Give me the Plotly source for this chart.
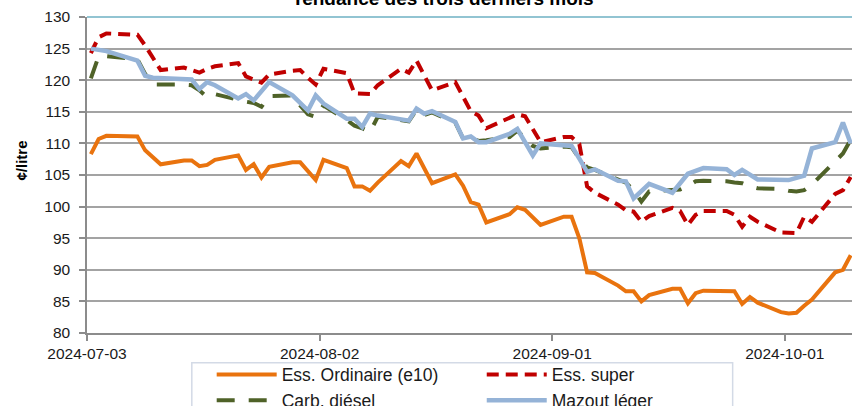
import plotly.graph_objects as go

# ---------------- data ----------------
ord_dates = ["2024-07-03","2024-07-04","2024-07-05","2024-07-09","2024-07-10","2024-07-12",
             "2024-07-15","2024-07-16","2024-07-17","2024-07-18","2024-07-19","2024-07-22",
             "2024-07-23","2024-07-24","2024-07-25","2024-07-26","2024-07-29","2024-07-30",
             "2024-08-01","2024-08-02","2024-08-05","2024-08-06","2024-08-07","2024-08-08",
             "2024-08-09","2024-08-12","2024-08-13","2024-08-14","2024-08-16","2024-08-19",
             "2024-08-20","2024-08-21","2024-08-22","2024-08-23","2024-08-26","2024-08-27",
             "2024-08-28","2024-08-30","2024-09-02","2024-09-03","2024-09-04","2024-09-05",
             "2024-09-06","2024-09-09","2024-09-10","2024-09-11","2024-09-12","2024-09-13",
             "2024-09-16","2024-09-17","2024-09-18","2024-09-19","2024-09-20","2024-09-23",
             "2024-09-24","2024-09-25","2024-09-26","2024-09-27","2024-09-30","2024-10-01",
             "2024-10-02","2024-10-03","2024-10-04","2024-10-07","2024-10-08","2024-10-09"]
ord_vals = [108.3,110.7,111.2,111.1,108.9,106.7,
            107.3,107.3,106.4,106.6,107.4,108.1,
            105.8,106.7,104.6,106.3,107.0,107.0,
            104.2,107.4,106.1,103.2,103.2,102.5,
            103.8,107.2,106.4,108.4,103.7,105.1,
            103.3,100.7,100.3,97.5,98.8,99.9,
            99.5,97.1,98.4,98.4,95.0,89.6,
            89.5,87.5,86.6,86.6,85.0,86.0,
            87.0,87.0,84.7,86.3,86.7,86.7,
            86.6,84.6,85.7,84.8,83.3,83.1,
            83.2,84.3,85.3,89.6,90.0,92.3]

sup_dates = ["2024-07-03","2024-07-04","2024-07-05","2024-07-09","2024-07-10","2024-07-12",
             "2024-07-15","2024-07-17","2024-07-18","2024-07-19","2024-07-22","2024-07-23",
             "2024-07-25","2024-07-26","2024-07-29","2024-07-30","2024-07-31","2024-08-01",
             "2024-08-02","2024-08-05","2024-08-06","2024-08-08","2024-08-09","2024-08-12",
             "2024-08-13","2024-08-14","2024-08-16","2024-08-19","2024-08-21","2024-08-22",
             "2024-08-23","2024-08-27","2024-08-28","2024-08-30","2024-09-02","2024-09-03",
             "2024-09-04","2024-09-05","2024-09-06","2024-09-09","2024-09-10","2024-09-11",
             "2024-09-12","2024-09-13","2024-09-16","2024-09-17","2024-09-18","2024-09-19",
             "2024-09-20","2024-09-23","2024-09-24","2024-09-25","2024-09-26","2024-09-27",
             "2024-09-30","2024-10-01","2024-10-02","2024-10-03","2024-10-04","2024-10-07",
             "2024-10-08","2024-10-09"]
sup_vals = [124.3,126.8,127.4,127.2,125.5,121.6,
            122.0,121.2,121.8,122.2,122.7,120.6,
            119.6,120.9,121.5,121.6,120.4,119.3,
            121.8,121.1,117.9,117.8,119.2,121.8,
            121.2,123.1,118.4,119.7,115.1,114.4,
            112.4,114.6,114.3,110.2,111.0,111.0,
            109.9,103.2,102.2,100.3,99.4,99.2,
            97.6,98.5,99.8,99.3,97.1,98.7,
            99.3,99.3,98.7,96.8,98.4,97.6,
            95.9,95.8,95.8,98.4,97.6,102.0,
            102.6,104.7]

die_dates = ["2024-07-03","2024-07-04","2024-07-05","2024-07-09","2024-07-10","2024-07-11",
             "2024-07-15","2024-07-16","2024-07-17","2024-07-18","2024-07-19","2024-07-22",
             "2024-07-23","2024-07-24","2024-07-25","2024-07-26","2024-07-29","2024-07-30",
             "2024-07-31","2024-08-01","2024-08-02","2024-08-05","2024-08-06","2024-08-07",
             "2024-08-08","2024-08-09","2024-08-13","2024-08-14","2024-08-15","2024-08-16",
             "2024-08-19","2024-08-20","2024-08-21","2024-08-22","2024-08-23","2024-08-26",
             "2024-08-27","2024-08-29","2024-08-30","2024-09-02","2024-09-03","2024-09-04",
             "2024-09-05","2024-09-06","2024-09-09","2024-09-10","2024-09-11","2024-09-12",
             "2024-09-13","2024-09-16","2024-09-17","2024-09-18","2024-09-19","2024-09-20",
             "2024-09-23","2024-09-24","2024-09-25","2024-09-26","2024-09-27","2024-09-30",
             "2024-10-01","2024-10-02","2024-10-03","2024-10-04","2024-10-07","2024-10-08",
             "2024-10-09"]
die_vals = [120.3,123.8,123.8,123.3,121.0,119.3,
            119.3,119.2,118.4,117.3,117.8,116.8,
            116.6,116.4,115.8,117.5,117.6,116.0,
            114.6,114.2,116.0,113.7,112.8,112.4,
            111.8,114.2,113.5,115.3,114.5,114.9,
            113.3,110.8,110.9,110.4,110.5,111.0,
            112.0,109.6,109.2,109.5,109.4,107.6,
            106.2,105.8,104.3,103.8,102.6,100.8,
            102.4,102.6,102.7,103.2,104.0,104.1,
            104.0,103.8,103.7,103.2,102.9,102.8,
            102.5,102.4,102.6,103.5,107.2,108.4,
            110.6]

maz_dates = ["2024-07-03","2024-07-05","2024-07-09","2024-07-10","2024-07-11","2024-07-16",
             "2024-07-17","2024-07-18","2024-07-19","2024-07-22","2024-07-23","2024-07-24",
             "2024-07-26","2024-07-29","2024-07-31","2024-08-01","2024-08-02","2024-08-05",
             "2024-08-06","2024-08-07","2024-08-08","2024-08-09","2024-08-13","2024-08-14",
             "2024-08-15","2024-08-16","2024-08-19","2024-08-20","2024-08-21","2024-08-22",
             "2024-08-23","2024-08-26","2024-08-27","2024-08-29","2024-08-30","2024-09-03",
             "2024-09-04","2024-09-05","2024-09-06","2024-09-09","2024-09-10","2024-09-11",
             "2024-09-13","2024-09-16","2024-09-18","2024-09-20","2024-09-23","2024-09-24",
             "2024-09-25","2024-09-27","2024-10-01","2024-10-03","2024-10-04","2024-10-07",
             "2024-10-08","2024-10-09"]
maz_vals = [125.0,124.6,123.1,120.7,120.4,120.1,
            118.6,119.7,119.2,117.1,117.8,116.8,
            119.7,117.6,115.2,117.6,116.3,113.9,
            113.9,112.6,114.7,114.4,113.6,115.5,
            114.7,115.1,113.4,110.8,111.1,110.2,
            110.2,111.5,112.3,108.1,110.0,109.6,
            107.6,105.5,105.9,104.1,104.0,101.3,
            103.6,102.2,105.2,106.1,105.9,105.0,
            105.8,104.3,104.2,104.9,109.2,110.2,
            113.3,110.0]

series_names = ["Ess. Ordinaire (e10)", "Ess. super", "Carb. diésel", "Mazout léger"]
tick_dates = ["2024-07-03", "2024-08-02", "2024-09-01", "2024-10-01"]
y_ticks = [80, 85, 90, 95, 100, 105, 110, 115, 120, 125, 130]

# ---------------- figure ----------------
FONT = "Liberation Sans, Arial, sans-serif"
styles = [
    dict(color="#E9730E", width=4, dash="solid"),
    dict(color="#C00000", width=4, dash="12px,7px"),
    dict(color="#4F6228", width=4, dash="18px,14px"),
    dict(color="#95B3D7", width=4.5, dash="solid"),
]
legend_ids = ["legend", "legend2", "legend", "legend2"]
data = [(ord_dates, ord_vals), (sup_dates, sup_vals), (die_dates, die_vals), (maz_dates, maz_vals)]

fig = go.Figure()
for name, (d, v), st, lg in zip(series_names, data, styles, legend_ids):
    fig.add_trace(go.Scatter(
        x=d, y=v, mode="lines", name=name, line=st, legend=lg,
        xperiod=86400000, xperiodalignment="middle",
    ))

legend_common = dict(
    orientation="v", xanchor="left", yanchor="top", y=-0.075,
    itemwidth=60, font=dict(size=17.5, family=FONT, color="#1a1a1a"),
    bgcolor="rgba(0,0,0,0)", borderwidth=0, traceorder="normal", tracegroupgap=0,
)

fig.update_layout(
    width=852, height=406,
    margin=dict(l=87, r=0, t=17, b=73, autoexpand=False),
    paper_bgcolor="white", plot_bgcolor="white",
    font=dict(family=FONT, color="#1a1a1a"),
    showlegend=True,
    legend=dict(x=0.163, **legend_common),
    legend2=dict(x=0.516, **legend_common),
    xaxis=dict(
        type="date", range=["2024-07-03", "2024-10-09 16:00"],
        tickmode="array", tickvals=tick_dates, ticktext=tick_dates,
        showgrid=False, zeroline=False, automargin=False,
        showline=True, linecolor="#8C8C8C", linewidth=1.5,
        ticks="outside", ticklen=6, tickcolor="#8C8C8C", tickwidth=1.5,
        tickfont=dict(size=15.5, family=FONT, color="#1a1a1a"),
    ),
    yaxis=dict(
        range=[80, 130], tickmode="array", tickvals=y_ticks,
        showgrid=True, gridcolor="#A3A3A3", gridwidth=1.5, zeroline=False, automargin=False,
        showline=True, linecolor="#8C8C8C", linewidth=1.5,
        ticks="outside", ticklen=6, tickcolor="#8C8C8C", tickwidth=1.5,
        tickfont=dict(size=15.5, family=FONT, color="#1a1a1a"),
        ticklabelstandoff=6,
    ),
    shapes=[
        dict(type="line", xref="paper", yref="paper", x0=0, x1=1, y0=1, y1=1,
             line=dict(color="#92C4D2", width=2)),
        dict(type="rect", xref="paper", yref="paper", x0=0.137, x1=0.844, y0=-0.0938, y1=-0.4,
             line=dict(color="#D3DAE6", width=1.5), fillcolor="rgba(0,0,0,0)"),
    ],
    annotations=[
        dict(text="<b>Tendance des trois derniers mois</b>", xref="paper", yref="paper",
             x=0.466, y=1.058, xanchor="center", yanchor="middle", showarrow=False,
             font=dict(size=19, family=FONT, color="#000000")),
        dict(text="<b>¢/litre</b>", xref="paper", yref="paper", x=-0.0858, y=0.547,
             xanchor="center", yanchor="middle", textangle=-90, showarrow=False,
             font=dict(size=15, family=FONT, color="#000000")),
    ],
)

fig.write_html(
    "out.html",
    config={"displayModeBar": False},
    post_script="document.body.style.margin='0';document.body.style.overflow='hidden';",
)
